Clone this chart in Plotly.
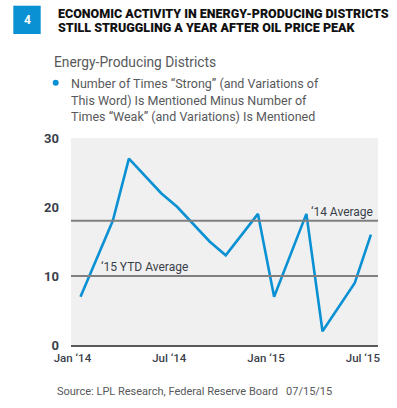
import plotly.graph_objects as go

# ---- data ----
months = ["2014-01", "2014-03", "2014-04", "2014-06", "2014-07", "2014-09", "2014-10",
          "2014-12", "2015-01", "2015-03", "2015-04", "2015-06", "2015-07"]
values = [7, 18, 27, 22, 20, 15, 13, 19, 7, 19, 2, 9, 16]
avg_2014 = 18
ytd_2015 = 10
tick_months = ["2014-01", "2014-07", "2015-01", "2015-07"]
tick_labels = ["Jan \u201814", "Jul \u201814", "Jan \u201815", "Jul \u201815"]
y_ticks = [0, 10, 20, 30]
title_lines = ["ECONOMIC ACTIVITY IN ENERGY-PRODUCING DISTRICTS",
               "STILL STRUGGLING A YEAR AFTER OIL PRICE PEAK"]
legend_lines = ["Number of Times \u201cStrong\u201d (and Variations of",
                "This Word) Is Mentioned Minus Number of",
                "Times \u201cWeak\u201d (and Variations) Is Mentioned"]

# ---- layout geometry ----
W, H = 397, 408
L, R, T, B = 71, 19, 138, 63
PW, PH = W - L - R, H - T - B

def px(x):
    return (x - L) / PW

def py(y):
    return 1 - (y - T) / PH

def month_index(m):
    y, mo = m.split("-")
    return (int(y) - 2014) * 12 + int(mo) - 1

xs = [month_index(m) + 0.5 for m in months]
tvals = [month_index(m) for m in tick_months]

BLUE = "#0a91d4"
GRAY = "#808080"
TXT = "#58595b"
DARK = "#3a3f4a"
FONT = "Roboto, Liberation Sans, sans-serif"

fig = go.Figure()
fig.add_trace(go.Scatter(x=xs, y=values, mode="lines",
                         line=dict(color=BLUE, width=2.6), showlegend=False,
                         hoverinfo="skip"))

fig.update_layout(
    width=W, height=H,
    margin=dict(l=L, r=R, t=T, b=B),
    paper_bgcolor="white",
    plot_bgcolor="#f0f0f0",
    xaxis=dict(range=[-0.09, 18.94], tickvals=tvals, ticktext=tick_labels,
               showgrid=False, zeroline=False, showline=True, linecolor="#595959",
               linewidth=2, ticks="", ticklen=0, ticklabelstandoff=1,
               tickfont=dict(family=FONT, size=11.5, color=DARK, weight=500),
               fixedrange=True),
    yaxis=dict(range=[0, 30], tickvals=y_ticks, showgrid=False, zeroline=False,
               showline=False, ticks="", ticklen=0, ticklabelstandoff=11,
               tickfont=dict(family=FONT, size=13, color=DARK, weight=700),
               fixedrange=True),
)

# average lines
for v in (avg_2014, ytd_2015):
    fig.add_shape(type="line", xref="paper", x0=0, x1=1, yref="y", y0=v, y1=v,
                  line=dict(color=GRAY, width=2))

fig.add_annotation(text="\u201814 Average", xref="paper", x=px(375), xanchor="right",
                   yref="y", y=avg_2014, yanchor="bottom", yshift=0, showarrow=False,
                   font=dict(family=FONT, size=12, color=DARK))
fig.add_annotation(text="\u201815 YTD Average", xref="paper", x=px(99), xanchor="left",
                   yref="y", y=ytd_2015, yanchor="bottom", yshift=0, showarrow=False,
                   font=dict(family=FONT, size=12, color=DARK))

# header
fig.add_shape(type="rect", xref="paper", yref="paper", x0=px(13.3), x1=px(40.7),
              y0=py(34), y1=py(5.7), fillcolor=BLUE, line=dict(width=0))
fig.add_annotation(text="4", xref="paper", yref="paper", x=px(27), y=py(20),
                   xanchor="center", yanchor="middle", showarrow=False,
                   font=dict(family=FONT, size=12, color="white", weight=700))
for line, yc in zip(title_lines, (13.3, 27.7)):
    fig.add_annotation(text=line, xref="paper", yref="paper", x=px(56), y=py(yc),
                       xanchor="left", yanchor="middle", showarrow=False,
                       font=dict(family=FONT, size=12.5, color="#111111", weight=900))

fig.add_annotation(text="Energy-Producing Districts", xref="paper", yref="paper",
                   x=px(51.5), y=py(61.7), xanchor="left", yanchor="middle", showarrow=False,
                   font=dict(family=FONT, size=13.8, color=TXT))

fig.add_shape(type="circle", xref="paper", yref="paper", x0=px(52.7), x1=px(58.7),
              y0=py(85.7), y1=py(79.7), fillcolor=BLUE, line=dict(width=0))
for line, yc in zip(legend_lines, (83.3, 100, 116.7)):
    fig.add_annotation(text=line, xref="paper", yref="paper", x=px(69), y=py(yc),
                       xanchor="left", yanchor="middle", showarrow=False,
                       font=dict(family=FONT, size=12.5, color=TXT))

fig.add_annotation(text="Source: LPL Research, Federal Reserve Board   07/15/15",
                   xref="paper", yref="paper", x=px(55), y=py(391), xanchor="left", yanchor="middle",
                   showarrow=False, font=dict(family=FONT, size=11, color=TXT))

fig.write_html("out.html", config={"displayModeBar": False},
               post_script="document.body.style.margin='0';document.body.style.padding='0';")
